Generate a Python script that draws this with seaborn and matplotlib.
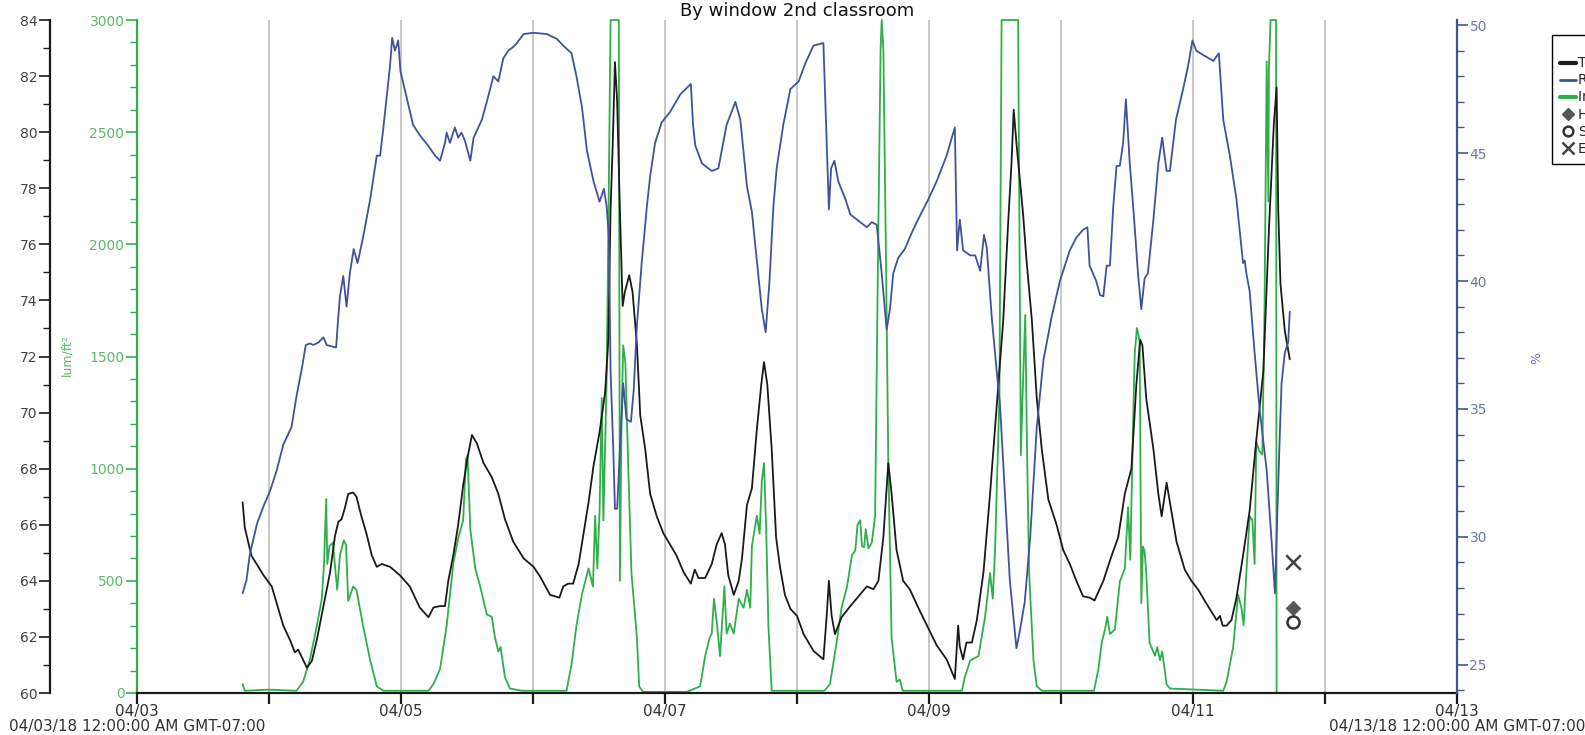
import numpy as np
import pandas as pd
import matplotlib
matplotlib.use("Agg")
import matplotlib.pyplot as plt
import seaborn as sns
from matplotlib.lines import Line2D
from matplotlib.ticker import MultipleLocator
from matplotlib.transforms import blended_transform_factory

# ---------------- data (hours since 04/03/18 00:00) ----------------
temp_hours = [19.2, 19.6, 20.8, 23.0, 24.5, 25.4, 26.6, 27.8, 28.7, 29.3, 30.9, 31.8, 32.7, 33.3, 34.2,
              35.1, 36.0, 36.6, 37.2, 37.8, 38.4, 39.3, 39.9, 40.8, 41.7, 42.7, 43.6, 44.5, 46.0, 47.8,
              49.6, 51.4, 53.0, 53.9, 55.1, 56.0, 56.6, 57.5, 58.4, 59.3, 60.1, 60.9, 61.8, 63.0, 64.5,
              65.7, 66.9, 68.4, 70.3, 72.1, 73.3, 75.1, 76.8, 77.5, 78.4, 79.3, 80.3, 81.2, 82.1, 83.0,
              84.1, 85.1, 85.7, 86.1, 86.5, 86.9, 87.3, 87.8, 88.3, 88.7, 89.5, 90.1, 90.9, 91.5, 92.4,
              93.3, 94.5, 95.7, 96.9, 98.1, 99.4, 100.7, 101.4, 102.1, 103.3, 104.5, 105.4, 106.3, 106.9,
              107.5, 108.5, 109.4, 110.0, 110.9, 111.8, 112.7, 113.5, 114.0, 114.6, 115.4, 116.2, 116.9,
              117.8, 118.8, 120.0, 121.2, 123.0, 124.8, 125.4, 125.8, 126.3, 126.9, 128.1, 129.7, 131.2,
              132.7, 133.9, 134.8, 135.7, 136.6, 137.2, 138.1, 139.3, 140.5, 142.4, 143.9, 145.4, 147.2,
              148.7, 149.3, 149.6, 150.2, 150.8, 151.8, 152.7, 153.9, 155.1, 156.3, 157.5, 158.4, 159.0,
              159.4, 159.9, 161.1, 161.7, 162.7, 163.6, 164.5, 165.7, 167.2, 168.4, 169.6, 170.8, 172.0,
              173.2, 174.1, 175.7, 177.2, 178.4, 179.6, 180.8, 181.7, 182.4, 182.8, 183.5, 184.8, 185.7,
              186.3, 187.2, 187.8, 189.0, 190.5, 191.7, 192.9, 194.4, 196.3, 196.9, 197.4, 198.1, 199.0,
              199.9, 201.1, 202.3, 203.5, 204.8, 205.8, 206.7, 207.2, 207.5, 207.9, 208.7, 209.6]
temp_values = [66.8, 65.9, 64.9, 64.2, 63.8, 63.2, 62.4, 61.9, 61.45, 61.55, 60.9, 61.15, 61.9, 62.5, 63.4,
               64.3, 65.6, 66.1, 66.2, 66.6, 67.1, 67.15, 67.0, 66.3, 65.7, 64.9, 64.5, 64.6, 64.5, 64.2,
               63.8, 63.05, 62.7, 63.05, 63.1, 63.1, 64.0, 64.9, 66.0, 67.4, 68.4, 69.2, 68.9, 68.2, 67.7,
               67.1, 66.2, 65.4, 64.8, 64.5, 64.15, 63.5, 63.4, 63.8, 63.9, 63.9, 64.6, 65.7, 66.8, 68.1,
               69.3, 70.7, 72.6, 77.2, 79.6, 82.5, 81.1, 77.2, 73.8, 74.3, 74.9, 74.3, 72.4, 69.9, 68.7,
               67.1, 66.3, 65.7, 65.3, 64.9, 64.3, 63.9, 64.4, 64.1, 64.1, 64.6, 65.3, 65.7, 65.3,
               64.2, 63.5, 64.0, 64.8, 66.7, 67.3, 69.4, 71.0, 71.8, 71.0, 68.7, 65.55, 64.5,
               63.5, 63.0, 62.75, 62.1, 61.5, 61.2, 62.75, 64.0, 62.75, 62.1, 62.7, 63.1, 63.45,
               63.8, 63.7, 64.0, 65.55, 68.2, 67.1, 65.1, 64.0, 63.7, 62.9, 62.3, 61.7, 61.2,
               60.5, 62.4, 61.65, 61.2, 61.8, 61.8, 62.6, 64.3, 67.1, 70.2, 73.3, 76.8, 78.9,
               80.8, 79.6, 77.1, 75.5, 73.3, 70.5, 68.7, 66.9, 66.0, 65.1, 64.6, 64.0, 63.45,
               63.4, 63.3, 64.0, 64.9, 65.55, 67.1, 68.0, 71.0, 72.6, 72.4, 70.5, 68.7, 67.1,
               66.3, 67.5, 66.8, 65.4, 64.4, 64.0, 63.7, 63.2, 62.6, 62.75, 62.4, 62.4, 62.6,
               63.4, 64.9, 66.5, 69.0, 71.5, 76.5, 80.3, 81.6, 77.2, 74.6, 72.9, 71.9]

rh_hours = [19.2, 19.9, 20.5, 21.8, 23.0, 24.2, 25.4, 26.6, 28.1, 29.0, 29.9, 30.7, 31.45, 32.05, 33.0,
            33.9, 34.5, 36.2, 36.6, 36.9, 37.5, 38.1, 38.7, 39.4, 40.1, 41.1, 42.4, 43.6, 44.2, 44.8,
            45.4, 46.0, 46.4, 46.9, 47.5, 47.9, 49.0, 50.2, 51.4, 52.9, 54.2, 55.1, 56.0, 56.3, 56.9,
            57.8, 58.4, 59.0, 59.6, 60.6, 61.2, 62.7, 63.6, 64.8, 65.7, 66.6, 67.5, 68.7, 70.3, 72.1,
            74.5, 76.3, 77.5, 79.0, 79.9, 80.9, 81.8, 83.0, 84.1, 84.9, 85.4, 85.8, 86.1, 86.6, 86.9,
            87.3, 87.8, 88.4, 89.0, 89.8, 90.3, 90.9, 91.8, 92.7, 93.3, 94.2, 95.4, 96.9, 98.8, 100.7,
            101.1, 101.5, 102.7, 103.9, 104.5, 105.7, 107.2, 108.8, 109.7, 110.9, 111.8, 112.7, 113.6,
            114.3, 115.0, 115.7, 116.3, 117.5, 118.8, 120.3, 121.5, 123.0, 124.8, 125.3, 125.8, 126.2,
            126.8, 127.5, 128.8, 129.7, 130.9, 132.7, 133.6, 134.5, 135.4, 136.3, 136.9, 137.5, 138.4,
            139.6, 141.1, 142.7, 143.9, 145.4, 147.2, 148.7, 149.1, 149.6, 150.2, 151.5, 152.4, 153.3,
            154.0, 154.5, 155.4, 156.3, 156.9, 157.8, 158.7, 159.9, 160.5, 161.4, 162.4, 163.6, 164.8,
            166.3, 167.8, 169.6, 170.8, 172.0, 172.8, 173.2, 174.4, 175.1, 175.7, 176.3, 176.9, 177.5,
            178.1, 178.7, 179.3, 179.8, 180.5, 181.2, 182.0, 182.6, 183.2, 183.8, 184.8, 185.7, 186.4,
            187.2, 187.8, 188.9, 190.2, 191.1, 191.9, 192.6, 194.1, 195.7, 196.7, 197.5, 198.7, 199.9,
            201.1, 201.4, 201.7, 202.3, 203.2, 204.1, 205.4, 206.3, 206.9, 207.2, 207.7, 208.1, 208.7,
            209.3, 209.6]
rh_values = [27.8, 28.3, 29.3, 30.5, 31.2, 31.8, 32.6, 33.6, 34.3, 35.5, 36.5, 37.5, 37.56, 37.5, 37.6,
             37.8, 37.5, 37.4, 38.6, 39.4, 40.2, 39.0, 40.3, 41.25, 40.7, 41.7, 43.2, 44.9, 44.9, 46.0,
             47.2, 48.4, 49.5, 49.0, 49.4, 48.2, 47.2, 46.1, 45.7, 45.3, 44.9, 44.7, 45.4, 45.8, 45.4,
             46.0, 45.6, 45.8, 45.5, 44.7, 45.6, 46.3, 47.0, 48.0, 47.8, 48.7, 49.0, 49.2, 49.65, 49.7,
             49.65, 49.47, 49.2, 48.9, 48.0, 46.8, 45.1, 43.9, 43.1, 43.6, 42.9, 41.7, 36.5, 33.4, 31.1,
             31.1, 33.4, 36.0, 34.6, 34.5, 35.7, 38.3, 40.8, 42.9, 44.1, 45.4, 46.2, 46.6, 47.3, 47.7,
             46.1, 45.3, 44.6, 44.4, 44.3, 44.4, 46.1, 47.0, 46.3, 43.7, 42.7, 40.8, 38.9,
             38.0, 40.0, 42.9, 44.4, 46.1, 47.5, 47.8, 48.5, 49.2, 49.3, 46.0, 42.8, 44.4,
             44.7, 43.9, 43.2, 42.6, 42.4, 42.1, 42.3, 42.2, 40.3, 38.1, 38.9, 40.3, 40.9,
             41.25, 42.0, 42.7, 43.2, 43.9, 44.9, 46.0, 41.2, 42.4, 41.2, 41.0, 41.0, 40.4,
             41.8, 41.3, 38.6, 36.5, 35.2, 31.7, 28.3, 25.65, 26.3, 27.45, 30.0, 34.3, 36.9,
             38.6, 40.0, 41.2, 41.7, 42.0, 42.1, 40.6, 40.0, 39.45, 39.4, 40.6, 40.6, 42.9,
             44.5, 44.5, 45.4, 47.1, 44.6, 42.7, 40.3, 38.9, 40.1, 40.3, 42.4, 44.6, 45.6,
             44.3, 44.3, 46.3, 47.5, 48.4, 49.4, 49.0, 48.8, 48.6, 48.9, 46.3, 44.9, 43.2,
             40.7, 40.8, 40.3, 39.6, 37.2, 35.0, 32.6, 29.8, 27.8, 30.0, 33.45, 36.0, 37.2,
             37.6, 38.8]

light_hours = [19.2, 19.6, 24.0, 29.0, 30.2, 31.4, 32.7, 33.6, 34.0, 34.4, 34.6, 35.0, 35.6, 36.4, 36.9,
               37.6, 38.0, 38.4, 39.3, 39.9, 41.1, 42.4, 43.6, 44.8, 53.0, 53.9, 55.1, 56.3, 57.5, 58.4,
               59.3, 59.8, 60.1, 60.6, 61.5, 62.4, 63.6, 64.5, 65.1, 65.7, 66.1, 66.9, 67.8, 70.0, 78.1,
               79.0, 79.9, 80.9, 82.1, 82.9, 83.3, 83.7, 84.1, 84.5, 84.8, 85.4, 85.8, 86.1, 87.6, 87.8,
               88.1, 88.4, 88.8, 89.3, 89.9, 90.9, 91.3, 92.0, 100.0, 102.4, 103.3, 104.1, 104.5, 104.9,
               105.4, 106.0, 106.5, 106.8, 107.2, 107.8, 108.5, 109.4, 110.3, 110.9, 111.5, 111.8, 112.7,
               113.2, 113.6, 114.0, 114.4, 114.8, 115.4, 125.0, 126.0, 127.2, 128.1, 129.1, 130.0, 130.6,
               131.0, 131.5, 131.8, 132.2, 132.5, 133.0, 133.6, 134.2, 134.8, 135.2, 135.4, 135.7, 136.2,
               136.6, 137.2, 138.1, 138.7, 139.2, 150.0, 150.5, 151.5, 153.0, 154.2, 155.1, 155.6, 156.0,
               156.8, 157.2, 160.2, 160.7, 161.0, 161.5, 161.8, 162.2, 163.0, 163.6, 164.5, 174.0, 174.8,
               175.4, 176.0, 176.4, 176.9, 177.8, 178.7, 179.6, 180.2, 180.6, 181.0, 181.4, 181.8, 182.3,
               182.6, 182.9, 183.2, 183.5, 184.1, 185.1, 185.5, 186.0, 186.4, 187.2, 187.8, 197.5, 198.1,
               199.3, 200.2, 200.8, 201.2, 201.7, 202.3, 202.8, 203.2, 203.5, 204.0, 204.6, 205.0, 205.4,
               205.7, 205.8, 206.1, 207.1, 207.2, 209.6]
light_values = [40, 10, 15, 10, 50, 145, 300, 420, 575, 865, 575, 655, 670, 460, 615,
                680, 660, 410, 475, 460, 300, 145, 30, 10, 10, 40, 107, 300, 575, 690,
                770, 1040, 1060, 730, 555, 475, 350, 340, 245, 185, 205, 70, 20, 10, 10,
                127, 300, 440, 555, 475, 790, 555, 810, 1315, 770, 1410, 2290, 3000, 3000, 500,
                1220, 1550, 1470, 1025, 535, 245, 30, 5, 5, 30, 165, 245, 265, 420,
                320, 165, 360, 475, 265, 310, 265, 420, 380, 460, 380, 655, 790,
                710, 945, 1025, 730, 300, 10, 10, 40, 225, 380, 475, 615, 635,
                750, 770, 655, 650, 730, 645, 670, 790, 2095, 2870, 3000, 2870, 1900,
                1025, 245, 50, 60, 10, 10, 70, 145, 165, 340, 535, 420, 635,
                1315, 3000, 3000, 1060, 1315, 1685, 1120, 535, 145, 30, 10, 10, 107,
                225, 283, 340, 263, 283, 497, 555, 828, 594, 1080, 1510, 1627, 1568,
                400, 653, 633, 536, 224, 166, 205, 146, 185, 39, 20, 10, 49,
                205, 438, 380, 302, 536, 789, 770, 575, 1120, 1081, 1062, 1705, 2815,
                2191, 2776, 3000, 3000, 0, 0]

event_names = ["Host Connected", "Stopped", "End Of File"]
event_hours = [210.2, 210.2, 210.2]
event_temps = [63.03, 62.53, 64.67]

series_labels = ["Temp, \u00b0F", "RH, %", "Intensity, lum/ft\u00b2"]
tick_labels = ["04/03", "", "04/05", "", "04/07", "", "04/09", "", "04/11", "", "04/13"]
start_label = "04/03/18 12:00:00 AM GMT-07:00"
end_label = "04/13/18 12:00:00 AM GMT-07:00"
title = "By window 2nd classroom"

# ---------------- style ----------------
BLACK = "#1a1a1a"
BLUE = "#41519c"
BLUE_TXT = "#6a76a6"
GREEN = "#2fae4a"
GREEN_TXT = "#5cb868"
GRID = "#c4c4c4"

sns.set_style("white")
plt.rcParams['font.family'] = ['DejaVu Sans']

W, H = 1585, 735
fig = plt.figure(figsize=(W / 100, H / 100), dpi=100)
ax = fig.add_axes([137 / W, 42 / H, 1320 / W, 673 / H])
ax_t = ax.twinx()
ax_r = ax.twinx()

# light (green) on base axis
sns.lineplot(x=light_hours, y=light_values, ax=ax, color=GREEN, lw=1.3, estimator=None, legend=False)
ax.lines[-1].set_clip_on(False)
# temperature
sns.lineplot(x=temp_hours, y=temp_values, ax=ax_t, color=BLACK, lw=1.3, estimator=None, legend=False)
# RH
sns.lineplot(x=rh_hours, y=rh_values, ax=ax_r, color=BLUE, lw=1.3, estimator=None, legend=False)

# events
sns.scatterplot(x=[event_hours[0]], y=[event_temps[0]], ax=ax_t, marker="D", s=55, color="#555555",
                edgecolor="#555555", legend=False, zorder=5)
sns.scatterplot(x=[event_hours[1]], y=[event_temps[1]], ax=ax_t, marker="o", s=75, facecolor="white",
                edgecolor="#333333", linewidth=1.8, legend=False, zorder=5)
sns.scatterplot(x=[event_hours[2]], y=[event_temps[2]], ax=ax_t, marker="x", s=110, color="#444444",
                linewidth=1.8, legend=False, zorder=5)

# x axis
ax.set_xlim(0, 240)
ax.set_xticks(np.arange(0, 241, 24))
ax.set_xticklabels(tick_labels)
ax.grid(axis="x", color=GRID, lw=1.3)
ax.grid(axis="y", visible=False)
ax.set_axisbelow(True)
ax.tick_params(axis="x", direction="out", length=8, width=1.6, color=BLACK, labelsize=11,
               labelcolor="#333333", pad=0, bottom=True)
for a in (ax, ax_t, ax_r):
    a.set_xlabel("")
    a.set_ylabel("")
    a.spines["top"].set_visible(False)

# light axis (left, inner)
ax.set_ylim(0, 3000)
ax.yaxis.set_major_locator(MultipleLocator(500))
ax.yaxis.set_minor_locator(MultipleLocator(100))
ax.tick_params(axis="y", which="major", left=True, direction="out", length=8, width=1.2, color=GREEN,
               labelcolor=GREEN_TXT, labelsize=10, pad=1)
ax.tick_params(axis="y", which="minor", left=True, direction="out", length=5, width=1.0, color=GREEN)
ax.spines["left"].set_color(GREEN)
ax.spines["left"].set_linewidth(1.6)
ax.spines["bottom"].set_color(BLACK)
ax.spines["bottom"].set_linewidth(1.6)
ax.spines["right"].set_visible(False)

# temperature axis (left, outer; 87 px = 62.6 pt to the left of the light axis)
ax_t.set_ylim(60, 84)
ax_t.yaxis.set_ticks_position("left")
ax_t.spines["left"].set_visible(True)
ax_t.spines["left"].set_position(("outward", 87 * 0.72))
ax_t.spines["left"].set_color(BLACK)
ax_t.spines["left"].set_linewidth(1.6)
ax_t.spines["right"].set_visible(False)
ax_t.spines["bottom"].set_visible(False)
ax_t.yaxis.set_major_locator(MultipleLocator(2))
ax_t.yaxis.set_minor_locator(MultipleLocator(1))
ax_t.tick_params(axis="y", which="major", left=True, right=False, direction="out", length=8, width=1.2,
                 color=BLACK, labelcolor="#444444", labelsize=10, pad=1, labelleft=True, labelright=False)
ax_t.tick_params(axis="y", which="minor", left=True, right=False, direction="out", length=5, width=1.0,
                 color=BLACK)

# RH axis (right)
ax_r.set_ylim(23.9, 50.2)
ax_r.spines["right"].set_color(BLUE)
ax_r.spines["right"].set_linewidth(1.6)
ax_r.spines["left"].set_visible(False)
ax_r.spines["bottom"].set_visible(False)
ax_r.yaxis.set_major_locator(MultipleLocator(5))
ax_r.yaxis.set_minor_locator(MultipleLocator(1))
ax_r.tick_params(axis="y", which="major", right=True, direction="out", length=8, width=1.2, color=BLUE,
                 labelcolor=BLUE_TXT, labelsize=10, pad=1)
ax_r.tick_params(axis="y", which="minor", right=True, direction="out", length=5, width=1.0, color=BLUE)

# texts
fig.text(797 / W, 1 - 11 / H, title, ha="center", va="center", fontsize=13, color="#111111")
fig.text(67 / W, 1 - 355 / H, "lum/ft\u00b2", rotation=90, ha="center", va="center", fontsize=9,
         color=GREEN_TXT)
fig.text(1537 / W, 1 - 358 / H, "%", rotation=90, ha="center", va="center", fontsize=9, color=BLUE_TXT)
trans = blended_transform_factory(ax.transData, fig.transFigure)
x0, x1 = ax.get_xlim()
ax.text(x0, 1 - 726 / H, start_label, transform=trans, ha="center", va="center", fontsize=11,
        color="#333333", clip_on=False)
ax.text(x1, 1 - 726 / H, end_label, transform=trans, ha="center", va="center", fontsize=11,
        color="#333333", clip_on=False)

# legend (partly cut by the figure edge, as in the reference)
handles = [Line2D([], [], color=BLACK, lw=3), Line2D([], [], color=BLUE, lw=2),
           Line2D([], [], color=GREEN, lw=3),
           Line2D([], [], color="#555555", marker="D", ls="", markersize=6),
           Line2D([], [], color="#333333", marker="o", ls="", markersize=7, markerfacecolor="white",
                  markeredgewidth=1.8),
           Line2D([], [], color="#444444", marker="x", ls="", markersize=8, markeredgewidth=1.8)]
leg = fig.legend(handles, series_labels + event_names, loc="upper left",
                 bbox_to_anchor=(1552 / W, 1 - 35 / H), bbox_transform=fig.transFigure,
                 frameon=True, fancybox=False, edgecolor="black", framealpha=1, fontsize=10,
                 handlelength=1.15, handletextpad=0.15, labelspacing=0.22, borderpad=0.6,
                 borderaxespad=0, title=" ", title_fontsize=8)
leg.get_frame().set_linewidth(1.0)

fig.savefig("out.png", dpi=100)
